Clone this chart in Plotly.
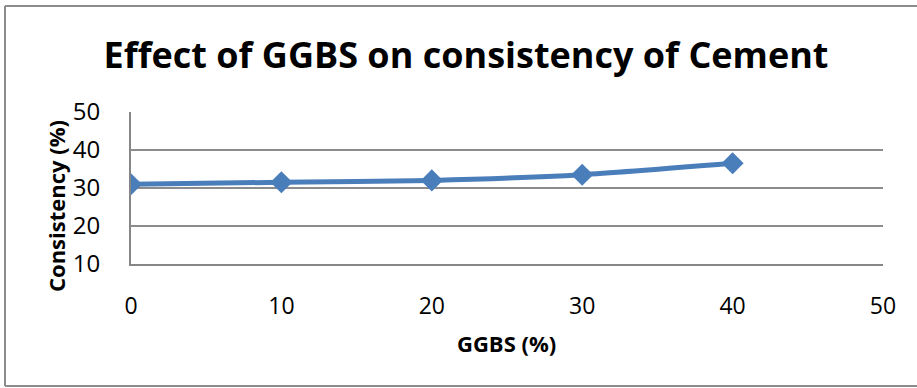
import plotly.graph_objects as go

# GGBS replacement level (%) and resulting normal consistency (%)
ggbs = [0, 10, 20, 30, 40]
consistency = [31.0, 31.5, 32.0, 33.5, 36.5]

x_ticks = [0, 10, 20, 30, 40, 50]
y_ticks = [10, 20, 30, 40, 50]

W, H = 917, 388
L, R, T, B = 131, 34, 112, 124
pw, ph = W - L - R, H - T - B

def px(xpix):
    return (xpix - L) / pw

def py(ypix):
    return (H - B - ypix) / ph

fig = go.Figure()
fig.add_trace(go.Scatter(
    x=ggbs, y=consistency,
    mode="lines+markers",
    line=dict(color="#4a7ebb", width=5, shape="spline", smoothing=0.6),
    marker=dict(symbol="diamond", size=17, color="#4a7ebb"),
    showlegend=False,
))

font_family = "Open Sans, Liberation Sans, sans-serif"
clear = "rgba(0,0,0,0)"

fig.update_layout(
    width=W, height=H,
    margin=dict(l=L, r=R, t=T, b=B),
    paper_bgcolor="white", plot_bgcolor="white",
    title=dict(
        text="<b>Effect of GGBS on consistency of Cement</b>",
        x=466 / W, xanchor="center", y=1 - 55 / H, yanchor="middle",
        font=dict(family=font_family, size=36, color="black"),
    ),
    xaxis=dict(
        range=[0, 50], tickvals=x_ticks,
        ticks="outside", ticklen=20, tickcolor=clear,
        showgrid=False, zeroline=False,
        showline=True, linecolor="#868686", linewidth=2,
        tickfont=dict(family=font_family, size=23, color="black"),
    ),
    yaxis=dict(
        range=[10, 50], tickvals=y_ticks,
        ticks="outside", ticklen=24, tickcolor=clear,
        showgrid=True, gridcolor="#8c8c8c", gridwidth=2,
        zeroline=False,
        showline=True, linecolor="#868686", linewidth=2,
        tickfont=dict(family=font_family, size=24, color="black"),
    ),
    annotations=[
        dict(text="<b>GGBS (%)</b>", xref="paper", yref="paper",
             x=px(506), y=py(343), xanchor="center", yanchor="middle",
             showarrow=False,
             font=dict(family=font_family, size=22, color="black")),
        dict(text="<b>Consistency (%)</b>", xref="paper", yref="paper",
             x=px(56), y=py(206), xanchor="center", yanchor="middle",
             textangle=-90, showarrow=False,
             font=dict(family=font_family, size=22, color="black")),
    ],
)

# outer chart frame (left, top and bottom edges)
frame = "#8c8c8c"
for x0, y0, x1, y1 in [(5, 6, 5, 386), (5, 6, 930, 6), (5, 386, 930, 386)]:
    fig.add_shape(
        type="line", xref="paper", yref="paper",
        x0=px(x0), y0=py(y0), x1=px(x1), y1=py(y1),
        line=dict(color=frame, width=2), layer="below",
    )

fig.write_html("out.html")
